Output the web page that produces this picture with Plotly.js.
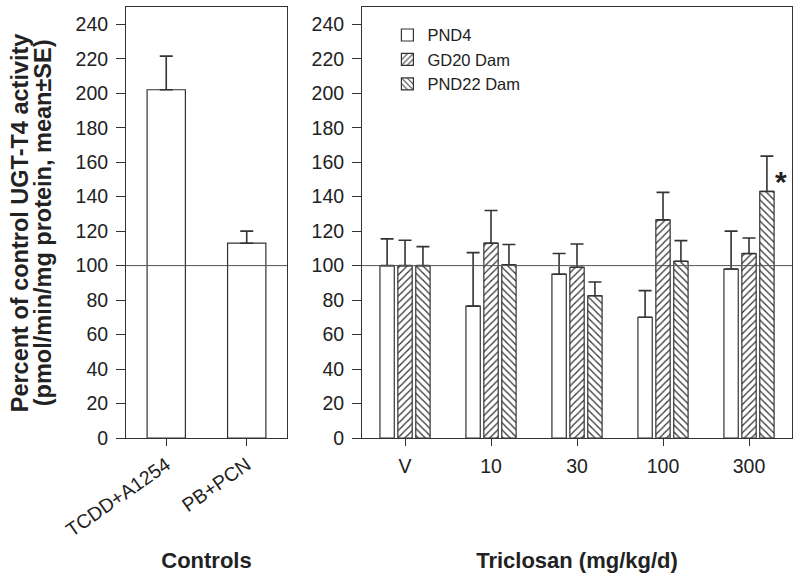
<!DOCTYPE html>
<html>
<head>
<meta charset="utf-8">
<script src="https://cdn.plot.ly/plotly-3.0.1.min.js"></script>
<style>html,body{margin:0;padding:0;background:#fff;}#chart{width:800px;height:582px;}</style>
</head>
<body>
<div id="chart"></div>
<script>
// Controls panel
const controlCats = ['TCDD+A1254', 'PB+PCN'];
const controlVals = [202, 113];
const controlErr = [19.5, 7];

// Triclosan panel
const doseCats = ['V', '10', '30', '100', '300'];
const pnd4 = [100, 76.5, 95, 70, 98];
const pnd4Err = [15.5, 31, 12, 15.5, 22];
const gd20 = [100, 113, 99, 126.5, 107];
const gd20Err = [14.7, 19, 13.5, 16, 9];
const pnd22 = [100, 100.5, 82.5, 102.5, 143];
const pnd22Err = [11, 11.7, 8, 12, 20.5];

const seriesNames = ['PND4', 'GD20 Dam', 'PND22 Dam'];
const yTicks = [0, 20, 40, 60, 80, 100, 120, 140, 160, 180, 200, 220, 240];
const yTitleLines = ['Percent of control UGT-T4 activity', '(pmol/min/mg protein, mean±SE)'];
const refLevel = 100;

const FONT = 'Liberation Sans, Arial, sans-serif';
const INK = '#333333';
const zeros = a => a.map(() => 0);

function errBar(arr) {
  return {type: 'data', symmetric: false, array: arr, arrayminus: zeros(arr),
          color: INK, thickness: 1.6, width: 6.5};
}

const traces = [
  {type: 'bar', x: controlCats, y: controlVals, xaxis: 'x', yaxis: 'y',
   width: 0.476, showlegend: false,
   marker: {color: '#ffffff', line: {color: INK, width: 1.2}},
   error_y: errBar(controlErr)},
  {type: 'bar', name: seriesNames[0], x: doseCats, y: pnd4, xaxis: 'x2', yaxis: 'y2',
   marker: {color: '#ffffff', line: {color: INK, width: 1.2}},
   error_y: errBar(pnd4Err)},
  {type: 'bar', name: seriesNames[1], x: doseCats, y: gd20, xaxis: 'x2', yaxis: 'y2',
   marker: {color: '#ffffff', line: {color: INK, width: 1.2},
            pattern: {shape: '/', size: 5, solidity: 0.25, fgcolor: INK, bgcolor: '#ffffff'}},
   error_y: errBar(gd20Err)},
  {type: 'bar', name: seriesNames[2], x: doseCats, y: pnd22, xaxis: 'x2', yaxis: 'y2',
   marker: {color: '#ffffff', line: {color: INK, width: 1.2},
            pattern: {shape: '\\', size: 5, solidity: 0.25, fgcolor: INK, bgcolor: '#ffffff'}},
   error_y: errBar(pnd22Err)}
];

const tickFont = {family: FONT, size: 19.5, color: '#222'};
const titleFont = {family: FONT, size: 22, color: '#222', weight: 'bold'};
const yTitleFont = {family: FONT, size: 23.5, color: '#222', weight: 'bold'};

const yBase = {
  range: [0, 250], tickmode: 'array', tickvals: yTicks, ticks: 'outside', ticklen: 9,
  tickcolor: INK, tickwidth: 1, showline: true, mirror: true, linecolor: INK, linewidth: 1,
  showgrid: false, zeroline: false, tickfont: tickFont, ticklabelstandoff: 4, fixedrange: true
};
const xBase = {
  type: 'category', ticks: 'outside', ticklen: 7, tickcolor: INK, tickwidth: 1,
  showline: true, mirror: true, linecolor: INK, linewidth: 1, showgrid: false,
  zeroline: false, tickfont: tickFont, fixedrange: true
};

const layout = {
  width: 800, height: 582,
  margin: {l: 126, r: 8, t: 7, b: 144},
  paper_bgcolor: '#ffffff', plot_bgcolor: '#ffffff',
  font: {family: FONT, color: '#222'},
  barmode: 'group', bargap: 0.375, bargroupgap: 0.2,
  showlegend: true,
  legend: {x: 0.3925, y: 0.975, xanchor: 'left', yanchor: 'top', bgcolor: 'rgba(0,0,0,0)',
           font: {family: FONT, size: 16.5, color: '#222'}, tracegroupgap: 0},
  xaxis: Object.assign({}, xBase, {domain: [0, 0.2417], anchor: 'y', tickangle: -35,
          range: [-0.5, 1.5],
          title: {text: 'Controls', font: titleFont, standoff: 12}}),
  yaxis: Object.assign({}, yBase, {anchor: 'x'}),
  xaxis2: Object.assign({}, xBase, {domain: [0.3544, 1], anchor: 'y2', range: [-0.5, 4.5],
          ticklabelstandoff: 4,
          title: {text: 'Triclosan (mg/kg/d)', font: titleFont, standoff: 76}}),
  yaxis2: Object.assign({}, yBase, {anchor: 'x2'}),
  shapes: [
    {type: 'line', xref: 'x domain', yref: 'y', x0: 0, x1: 1, y0: refLevel, y1: refLevel,
     line: {color: '#555', width: 1}, layer: 'above'},
    {type: 'line', xref: 'x2 domain', yref: 'y2', x0: 0, x1: 1, y0: refLevel, y1: refLevel,
     line: {color: '#555', width: 1}, layer: 'above'}
  ],
  annotations: [
    {xref: 'paper', yref: 'paper', x: -0.1595, y: 0.5, xanchor: 'center', yanchor: 'middle',
     textangle: -90, text: yTitleLines[0], showarrow: false, font: yTitleFont},
    {xref: 'paper', yref: 'paper', x: -0.125, y: 0.5, xanchor: 'center', yanchor: 'middle',
     textangle: -90, text: yTitleLines[1], showarrow: false, font: yTitleFont},
    {xref: 'x2', yref: 'y2', x: doseCats.length - 1, y: pnd22[4], text: '*', showarrow: false,
     xshift: 32, yshift: 10, font: {family: FONT, size: 30, color: '#222', weight: 'bold'}}
  ]
};

Plotly.newPlot('chart', traces, layout, {displayModeBar: false, staticPlot: true});
</script>
</body>
</html>
